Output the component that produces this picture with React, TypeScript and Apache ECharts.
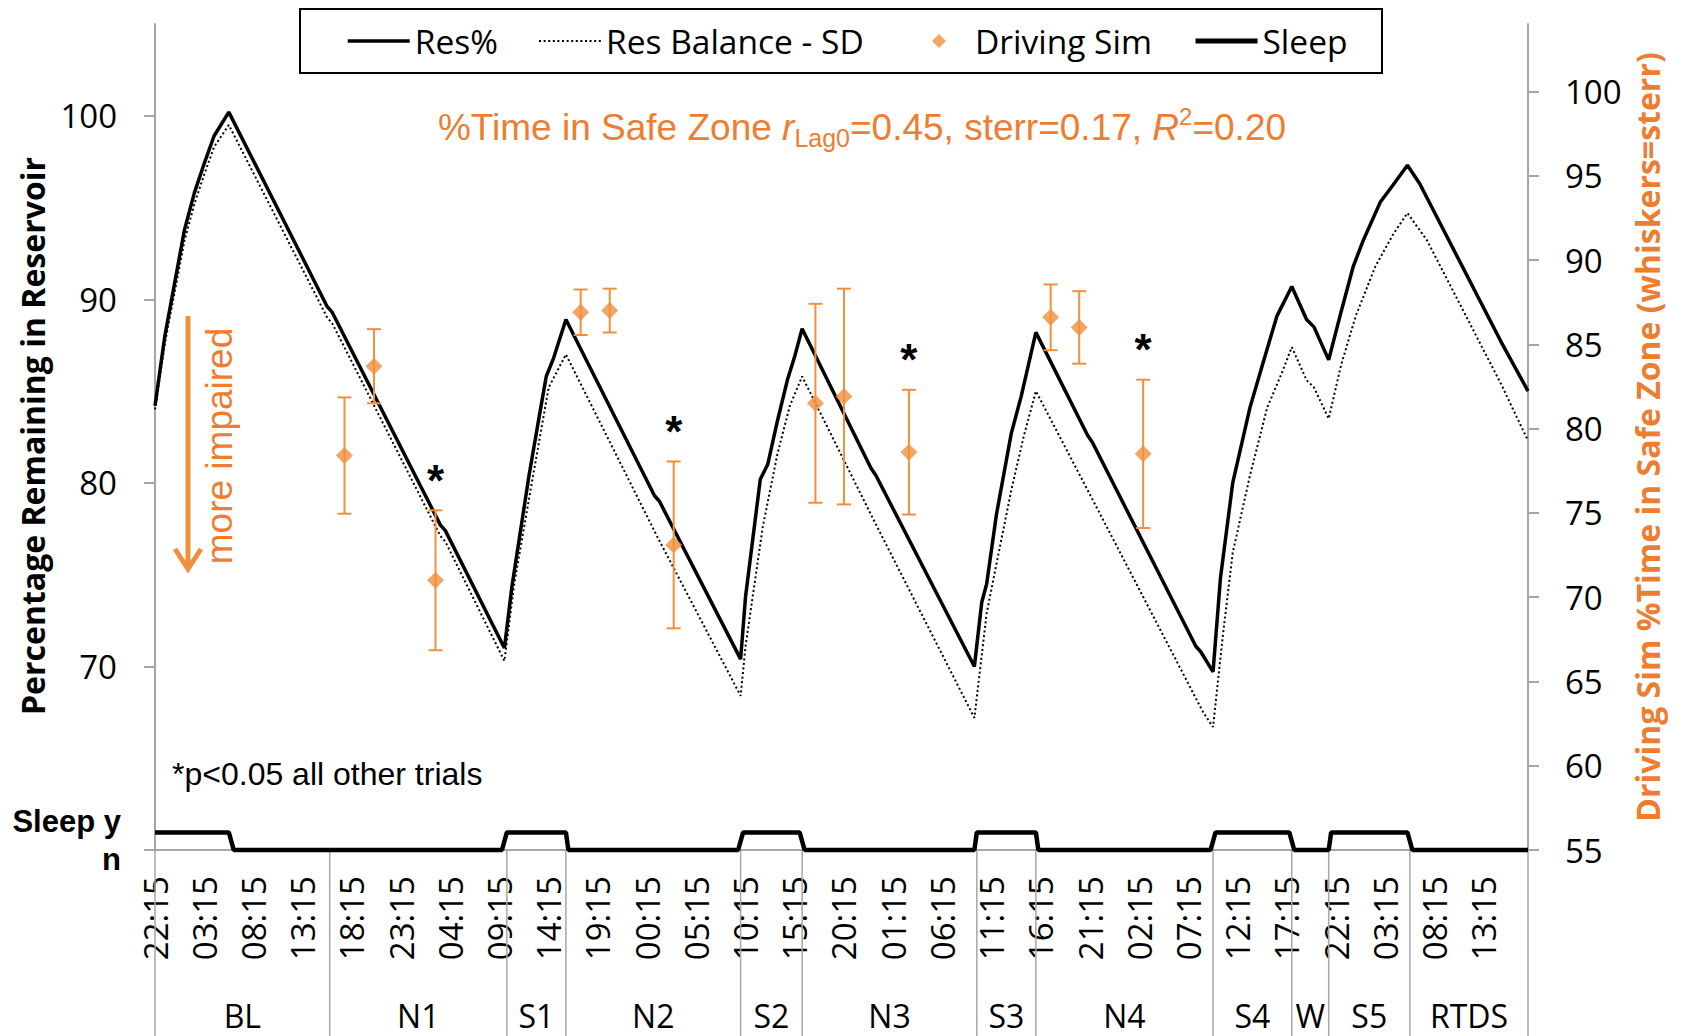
import React, { useEffect, useRef } from 'react';
import * as echarts from 'echarts';

// Clock labels every 5 h along the protocol timeline (hours from 22:15 on day 1)
const timeTickLabels = [
  '22:15', '03:15', '08:15', '13:15', '18:15', '23:15', '04:15', '09:15', '14:15', '19:15',
  '00:15', '05:15', '10:15', '15:15', '20:15', '01:15', '06:15', '11:15', '16:15', '21:15',
  '02:15', '07:15', '12:15', '17:15', '22:15', '03:15', '08:15', '13:15',
];

// Reservoir model output: [hours since start, % remaining]
const reservoirPct: [number, number][] = [
  [0, 84.2], [1, 88.0], [2, 90.9], [3, 93.8], [4, 95.8], [5, 97.4], [6, 98.9], [7.5, 100.2],
  [17.5, 89.6], [18, 89.3], [29, 77.7], [29.5, 77.4], [35.5, 71.0],
  [36.25, 74.3], [38, 80.4], [39, 83.5], [39.75, 85.8], [40.5, 86.8], [41.75, 88.9],
  [50.75, 79.3], [51.25, 79.0], [59.5, 70.4],
  [60, 73.8], [61.5, 80.2], [62.25, 81.0], [63.25, 83.4], [64.25, 85.6], [65, 86.9], [65.75, 88.4],
  [72.75, 80.8], [73.25, 80.4], [83.25, 70.0],
  [84, 73.5], [84.5, 74.5], [85.5, 78.3], [87, 82.7], [88, 84.7], [89.5, 88.2],
  [94.75, 82.6], [95.25, 82.2], [105.75, 71.1], [106.25, 70.8], [107.5, 69.7],
  [108.25, 74.8], [109.5, 80.0], [111.25, 84.1], [112.5, 86.4], [114, 89.1], [115.5, 90.7],
  [117, 88.9], [117.75, 88.5], [119.25, 86.7],
  [120.5, 89.3], [121.75, 91.8], [122.75, 93.2], [124.5, 95.3], [125.75, 96.2], [127.25, 97.3],
  [128.5, 96.3], [136.75, 87.7], [139.5, 85.0],
];

// Reservoir balance minus one SD
const resBalanceSD: [number, number][] = [
  [0, 84.0], [1, 87.6], [2, 90.4], [3, 93.2], [4, 95.2], [5, 96.8], [6, 98.3], [7.5, 99.5],
  [17.5, 89.0], [18, 88.7], [29, 77.1], [29.5, 76.8], [35.5, 70.3],
  [36.5, 74.5], [38.25, 79.9], [40, 85.2], [41.75, 87.0],
  [51, 77.1], [59.5, 68.4],
  [60, 71.1], [61.75, 77.6], [63.25, 81.6], [64.5, 84.2], [65.75, 85.8],
  [73, 78.0], [83.25, 67.2],
  [84.5, 72.9], [85.5, 75.6], [87, 79.6], [88.25, 82.5], [89.5, 85.0],
  [95.25, 79.1], [106.5, 67.5], [107.5, 66.7],
  [108.5, 71.7], [109.5, 76.2], [111.25, 80.4], [113, 84.1], [114.5, 86.0], [115.5, 87.4],
  [117, 85.6], [117.75, 85.2], [119.25, 83.5],
  [120.5, 86.4], [122, 89.1], [124, 91.8], [125.75, 93.5], [127.25, 94.7],
  [129.25, 93.2], [136.75, 85.4], [139.5, 82.3],
];

// Sleep (1 = asleep, 0 = awake)
const sleepState: [number, number][] = [
  [0, 1], [7.5, 1], [8, 0],
  [35.25, 0], [35.75, 1], [41.75, 1], [42, 0],
  [59.25, 0], [59.75, 1], [65.5, 1], [66, 0],
  [83.25, 0], [83.5, 1], [89.5, 1], [89.75, 0],
  [107.25, 0], [107.75, 1], [115.25, 1], [115.75, 0],
  [119.25, 0], [119.5, 1], [127.25, 1], [127.75, 0],
  [139.5, 0],
];

// Driving simulator sessions: % time in safe zone, with standard error
const driveHours = [19.25, 22.25, 28.5, 43.25, 46.2, 52.7, 67.1, 70.0, 76.6, 91.0, 93.9, 100.4];
const driveSafeZone = [78.4, 83.7, 71.0, 86.9, 87.0, 73.1, 81.5, 81.9, 78.6, 86.6, 86.0, 78.5];
const driveSterr = [3.45, 2.2, 4.15, 1.35, 1.3, 4.95, 5.9, 6.4, 3.7, 1.95, 2.15, 4.4];
const driveSignificant = [0, 0, 1, 0, 0, 1, 0, 0, 1, 0, 0, 1];

// Protocol phases along the time axis
const phaseBounds = [0, 17.75, 35.75, 41.75, 59.5, 65.75, 83.5, 89.5, 107.5, 115.5, 119.25, 127.5, 139.5];
const phaseNames = ['BL', 'N1', 'S1', 'N2', 'S2', 'N3', 'S3', 'N4', 'S4', 'W', 'S5', 'RTDS'];

const ORANGE = '#F0903C';
const ORANGE_TEXT = '#ED7D31';
const AXIS_GREY = '#A6A6A6';
const SANS = '"Open Sans", sans-serif';
const ARIAL = '"Liberation Sans", Arial, sans-serif';
const DIAMOND_ICON = 'path://M7,0 L14,7 L7,14 L0,7 Z';

// Legend entries, each placed in its own slot inside one framed box.
// The diamond icon is centred in its 62px slot, so its visible bounds begin 24px in.
const legendEntries: any[] = [
  { item: { name: 'Res%', itemStyle: { opacity: 0 }, lineStyle: { width: 3.5 } }, left: 346 },
  {
    item: { name: 'Res Balance - SD', itemStyle: { opacity: 0 }, lineStyle: { width: 2, type: [2, 2.6] } },
    left: 538,
  },
  { item: { name: 'Driving Sim', icon: DIAMOND_ICON }, left: 908 + 24 },
  { item: { name: 'Sleep', itemStyle: { opacity: 0 }, lineStyle: { width: 5 } }, left: 1193 },
];

export default function App() {
  const ref = useRef<HTMLDivElement>(null);

  useEffect(() => {
    const chart = echarts.init(ref.current as HTMLDivElement, null, { renderer: 'svg' });

    const driveData = driveHours.map((h, i) => [h, driveSafeZone[i]]);
    const whiskerData = driveHours.map((h, i) => [h, driveSafeZone[i], driveSterr[i], driveSignificant[i]]);
    const boundData = phaseBounds.map((h) => [h, 60]);
    const phaseLabelData = phaseNames.map((_, i) => [(phaseBounds[i] + phaseBounds[i + 1]) / 2, 60, i]);

    const legends = legendEntries.map((e) => ({
      data: [e.item],
      left: e.left,
      top: 23,
      padding: 0,
      itemWidth: 62,
      itemHeight: 14,
      selectedMode: false,
      textStyle: { fontSize: 33.5, fontFamily: SANS, color: '#000', lineHeight: 36 },
    }));

    const option: any = {
      animation: false,
      textStyle: { fontFamily: SANS },
      grid: { left: 155, top: 24, width: 1373, height: 826, containLabel: false },
      legend: legends,
      xAxis: {
        type: 'value',
        min: 0,
        max: 139.5,
        interval: 5,
        axisLine: { lineStyle: { color: AXIS_GREY, width: 2 } },
        axisTick: { show: false },
        splitLine: { show: false },
        axisLabel: {
          rotate: 90,
          margin: 26,
          fontSize: 33,
          color: '#000',
          fontFamily: SANS,
          showMaxLabel: false,
          formatter: (v: number) => {
            const i = Math.round(v / 5);
            return Math.abs(v - i * 5) < 1e-6 && i < timeTickLabels.length ? timeTickLabels[i] : '';
          },
        },
      },
      yAxis: [
        {
          type: 'value',
          position: 'left',
          min: 60,
          max: 105,
          interval: 10,
          axisLine: { show: true, lineStyle: { color: AXIS_GREY, width: 2 } },
          axisTick: { show: true, length: 11, lineStyle: { color: AXIS_GREY, width: 2 }, customValues: [60, 70, 80, 90, 100] },
          axisLabel: { customValues: [70, 80, 90, 100], margin: 38, fontSize: 33, color: '#000', padding: [8, 0, 0, 0] },
          splitLine: { show: false },
        },
        {
          type: 'value',
          position: 'right',
          min: 55,
          max: 104,
          interval: 5,
          axisLine: { show: true, lineStyle: { color: AXIS_GREY, width: 2 } },
          axisTick: {
            show: true, length: 11, lineStyle: { color: AXIS_GREY, width: 2 },
            customValues: [55, 60, 65, 70, 75, 80, 85, 90, 95, 100],
          },
          axisLabel: {
            customValues: [55, 60, 65, 70, 75, 80, 85, 90, 95, 100],
            margin: 37, fontSize: 33, color: '#000', padding: [6, 0, 0, 0],
          },
          splitLine: { show: false },
        },
        { type: 'value', min: 0, max: 47, show: false },
      ],
      series: [
        {
          name: 'Res Balance - SD',
          type: 'line',
          data: resBalanceSD,
          symbol: 'none',
          yAxisIndex: 0,
          z: 2,
          silent: true,
          lineStyle: { color: '#000', width: 2, type: [2, 2.6] },
          itemStyle: { color: '#000' },
        },
        {
          name: 'Res%',
          type: 'line',
          data: reservoirPct,
          symbol: 'none',
          yAxisIndex: 0,
          z: 3,
          silent: true,
          lineStyle: { color: '#000', width: 3.5 },
          itemStyle: { color: '#000' },
        },
        {
          name: 'Sleep',
          type: 'line',
          data: sleepState,
          symbol: 'none',
          yAxisIndex: 2,
          z: 3,
          clip: false,
          silent: true,
          lineStyle: { color: '#000', width: 4.5 },
          itemStyle: { color: '#000' },
        },
        {
          name: 'sterr',
          type: 'custom',
          yAxisIndex: 1,
          z: 4,
          silent: true,
          data: whiskerData,
          encode: { x: 0, y: 1 },
          renderItem: (_p: any, api: any) => {
            const h = api.value(0);
            const v = api.value(1);
            const e = api.value(2);
            const sig = api.value(3);
            const hi = api.coord([h, v + e]);
            const lo = api.coord([h, v - e]);
            const cap = 7;
            const st = { stroke: ORANGE, lineWidth: 2 };
            const children: any[] = [
              { type: 'line', shape: { x1: hi[0], y1: hi[1], x2: lo[0], y2: lo[1] }, style: st },
              { type: 'line', shape: { x1: hi[0] - cap, y1: hi[1], x2: hi[0] + cap, y2: hi[1] }, style: st },
              { type: 'line', shape: { x1: lo[0] - cap, y1: lo[1], x2: lo[0] + cap, y2: lo[1] }, style: st },
            ];
            if (sig) {
              children.push({
                type: 'text',
                x: hi[0],
                y: hi[1] - 30,
                style: {
                  text: '*', fill: '#000', font: `bold 44px ${ARIAL}`,
                  align: 'center', verticalAlign: 'middle', textAlign: 'center', textVerticalAlign: 'middle',
                },
              });
            }
            return { type: 'group', children };
          },
        },
        {
          name: 'Driving Sim',
          type: 'scatter',
          data: driveData,
          yAxisIndex: 1,
          symbol: 'diamond',
          symbolSize: 17,
          z: 5,
          silent: true,
          itemStyle: { color: ORANGE },
        },
        {
          name: 'phaseBounds',
          type: 'custom',
          yAxisIndex: 0,
          clip: false,
          silent: true,
          data: boundData,
          encode: { x: 0, y: 1 },
          renderItem: (_p: any, api: any) => {
            const p = api.coord([api.value(0), api.value(1)]);
            return {
              type: 'line',
              shape: { x1: p[0], y1: p[1], x2: p[0], y2: p[1] + 190 },
              style: { stroke: AXIS_GREY, lineWidth: 1.5 },
            };
          },
        },
        {
          name: 'phaseNames',
          type: 'custom',
          yAxisIndex: 0,
          clip: false,
          silent: true,
          data: phaseLabelData,
          encode: { x: 0, y: 1 },
          renderItem: (_p: any, api: any) => {
            const p = api.coord([api.value(0), api.value(1)]);
            return {
              type: 'text',
              x: p[0],
              y: p[1] + 165,
              style: {
                text: phaseNames[api.value(2)], fill: '#000', font: `32px ${SANS}`,
                align: 'center', verticalAlign: 'middle', textAlign: 'center', textVerticalAlign: 'middle',
              },
            };
          },
        },
      ],
      graphic: [
        {
          type: 'rect', shape: { x: 300, y: 9, width: 1082, height: 64 },
          style: { fill: 'none', stroke: '#000', lineWidth: 2 },
        },
        {
          type: 'text', x: 32, y: 436, rotation: Math.PI / 2,
          style: {
            text: 'Percentage Remaining in Reservoir', fill: '#000', font: `bold 32px ${SANS}`,
            align: 'center', verticalAlign: 'middle', textAlign: 'center', textVerticalAlign: 'middle',
          },
        },
        {
          type: 'text', x: 1647, y: 437, rotation: Math.PI / 2,
          style: {
            text: 'Driving Sim %Time in Safe Zone (whiskers=sterr)', fill: ORANGE_TEXT, font: `bold 32px ${SANS}`,
            align: 'center', verticalAlign: 'middle', textAlign: 'center', textVerticalAlign: 'middle',
          },
        },
        {
          type: 'text', x: 862, y: 127,
          style: {
            text: '{n|%Time in Safe Zone }{i|r}{s|Lag0}{n|=0.45, sterr=0.17, }{i|R}{p|2}{n|=0.20}',
            align: 'center', verticalAlign: 'middle', textAlign: 'center', textVerticalAlign: 'middle',
            rich: {
              n: { fontSize: 37, fontFamily: ARIAL, fill: ORANGE_TEXT, lineHeight: 46 },
              i: { fontSize: 37, fontFamily: ARIAL, fontStyle: 'italic', fill: ORANGE_TEXT, lineHeight: 46 },
              s: { fontSize: 25, fontFamily: ARIAL, fill: ORANGE_TEXT, lineHeight: 22, verticalAlign: 'bottom' },
              p: { fontSize: 24, fontFamily: ARIAL, fill: ORANGE_TEXT, lineHeight: 22, verticalAlign: 'top' },
            },
          },
        },
        {
          type: 'text', x: 219, y: 446, rotation: Math.PI / 2,
          style: {
            text: 'more impaired', fill: ORANGE_TEXT, font: `37px ${ARIAL}`,
            align: 'center', verticalAlign: 'middle', textAlign: 'center', textVerticalAlign: 'middle',
          },
        },
        {
          type: 'polyline', shape: { points: [[188, 316], [188, 568]] },
          style: { stroke: ORANGE, lineWidth: 5 },
        },
        {
          type: 'polyline', shape: { points: [[175, 549], [188, 569], [201, 549]] },
          style: { stroke: ORANGE, lineWidth: 5, fill: 'none' },
        },
        {
          type: 'text', x: 172, y: 774,
          style: {
            text: '*p<0.05 all other trials', fill: '#000', font: `32px ${ARIAL}`,
            align: 'left', verticalAlign: 'middle', textAlign: 'left', textVerticalAlign: 'middle',
          },
        },
        {
          type: 'text', x: 121, y: 821,
          style: {
            text: 'Sleep y', fill: '#000', font: `bold 31px ${ARIAL}`,
            align: 'right', verticalAlign: 'middle', textAlign: 'right', textVerticalAlign: 'middle',
          },
        },
        {
          type: 'text', x: 121, y: 859,
          style: {
            text: 'n', fill: '#000', font: `bold 31px ${ARIAL}`,
            align: 'right', verticalAlign: 'middle', textAlign: 'right', textVerticalAlign: 'middle',
          },
        },
      ],
    };

    chart.setOption(option);
    return () => chart.dispose();
  }, []);

  return (
    <div
      ref={ref}
      style={{ position: 'fixed', left: 0, top: 0, width: 1688, height: 1036, background: '#fff' }}
    />
  );
}
